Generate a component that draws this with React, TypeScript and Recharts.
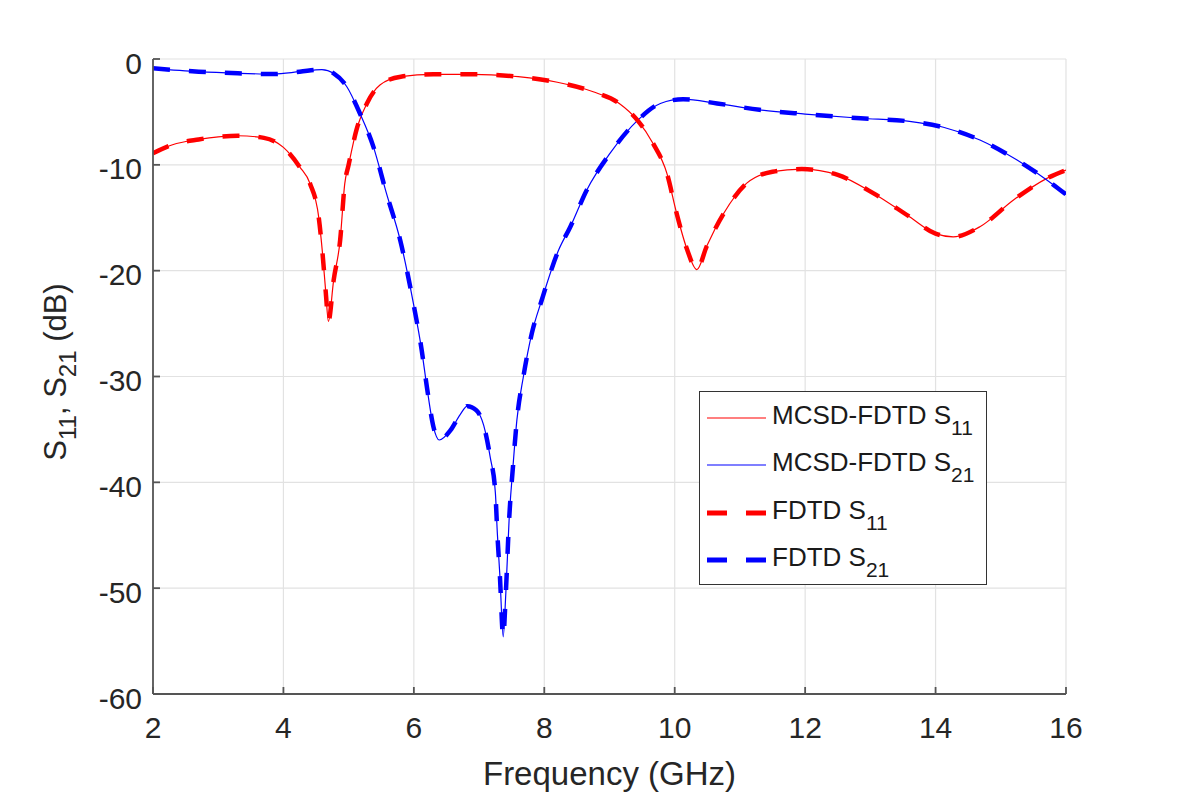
import React from "react";
import {
  CartesianGrid,
  Legend,
  Line,
  LineChart,
  XAxis,
  YAxis,
} from "recharts";

// frequency sweep, GHz
const s11Freq = [
  2, 2.3, 2.7, 3.0, 3.3, 3.7, 4.0, 4.25, 4.41, 4.54, 4.6, 4.65, 4.69, 4.77, 4.87, 4.94,
  5.0, 5.12, 5.28, 5.48, 5.8, 6.3, 6.9, 7.6, 8.2, 8.75, 9.15, 9.43, 9.67, 9.88, 10.03,
  10.19, 10.34, 10.49, 10.75, 11.1, 11.5, 11.95, 12.5, 13.05, 13.6, 14.0, 14.27, 14.68,
  15.2, 15.7, 16.0,
];
const s11Db = [
  -8.9, -8.1, -7.6, -7.35, -7.25, -7.45, -8.35, -10.2, -11.8, -14.9, -18.4, -22.1, -24.8,
  -20.9, -17.1, -11.8, -10.0, -6.7, -4.2, -2.46, -1.67, -1.45, -1.45, -1.67, -2.2, -3.1,
  -4.2, -5.8, -8.0, -10.8, -14.6, -18.0, -19.9, -17.7, -14.6, -11.75, -10.65, -10.4, -10.95,
  -12.7, -14.9, -16.5, -16.8, -15.85, -13.3, -11.3, -10.5,
];

const s21Freq = [
  2, 2.7, 3.3, 3.85, 4.25, 4.59, 4.77, 4.97, 5.17, 5.38, 5.58, 5.79, 5.99, 6.12, 6.2, 6.3,
  6.39, 6.56, 6.71, 6.82, 6.96, 7.07, 7.17, 7.25, 7.28, 7.32, 7.37, 7.41, 7.46, 7.52, 7.58,
  7.68, 7.81, 7.96, 8.22, 8.4, 8.65, 9.01, 9.43, 9.78, 10.13, 10.65, 11.3, 12.0, 12.85,
  13.6, 14.12, 14.68, 15.25, 15.7, 16.0,
];
const s21Db = [
  -0.88, -1.2, -1.35, -1.42, -1.2, -1.0, -1.35, -2.6, -5.1, -8.3, -12.7, -17.1, -23.0, -27.5,
  -31.0, -34.75, -36.0, -35.1, -33.6, -32.8, -33.2, -34.6, -37.6, -41.0, -44.8, -48.9, -54.6,
  -50.5, -43.6, -38.5, -34.1, -30.0, -25.9, -22.8, -18.05, -15.85, -12.4, -8.9, -5.8, -4.2,
  -3.8, -4.2, -4.8, -5.2, -5.6, -5.9, -6.45, -7.65, -9.55, -11.4, -12.8,
];

const xTicks = [2, 4, 6, 8, 10, 12, 14, 16];
const yTicks = [-60, -50, -40, -30, -20, -10, 0];

const toRows = (freq: number[], db: number[]) => freq.map((f, i) => ({ f, db: db[i] }));
const s11Rows = toRows(s11Freq, s11Db);
const s21Rows = toRows(s21Freq, s21Db);

const W = 1179;
const H = 794;
const PLOT = { left: 153, top: 59, right: 1066, bottom: 694 };
const FONT = "'Liberation Sans', Arial, Helvetica, sans-serif";
const AXIS_COLOR = "#555555";
const TEXT_COLOR = "#262626";

const series = [
  { key: "mcsd11", rows: s11Rows, label: "MCSD-FDTD S", sub: "11", color: "#ff0000", dashed: false },
  { key: "mcsd21", rows: s21Rows, label: "MCSD-FDTD S", sub: "21", color: "#0000ff", dashed: false },
  { key: "fdtd11", rows: s11Rows, label: "FDTD S", sub: "11", color: "#ff0000", dashed: true },
  { key: "fdtd21", rows: s21Rows, label: "FDTD S", sub: "21", color: "#0000ff", dashed: true },
];

function FreqTitle() {
  return (
    <text
      x={(PLOT.left + PLOT.right) / 2}
      y={PLOT.bottom + 91}
      textAnchor="middle"
      fontFamily={FONT}
      fontSize={33}
      fill={TEXT_COLOR}
    >
      Frequency (GHz)
    </text>
  );
}

function SParamTitle() {
  const cx = 66;
  const cy = 372;
  return (
    <text
      x={cx}
      y={cy}
      transform={`rotate(-90, ${cx}, ${cy})`}
      textAnchor="middle"
      fontFamily={FONT}
      fontSize={31}
      fill={TEXT_COLOR}
    >
      S
      <tspan fontSize={24} dy={10}>11</tspan>
      <tspan dy={-10}>, S</tspan>
      <tspan fontSize={24} dy={10}>21</tspan>
      <tspan dy={-10}> (dB)</tspan>
    </text>
  );
}

function LegendBox() {
  return (
    <div
      style={{
        boxSizing: "border-box",
        width: 288,
        height: 194,
        border: "1.5px solid #333",
        background: "#fff",
        paddingTop: 2,
        fontFamily: FONT,
        color: "#1a1a1a",
      }}
    >
      {series.map((s) => (
        <div
          key={s.key}
          style={{ height: 47.5, display: "flex", alignItems: "center", paddingLeft: 6 }}
        >
          <svg width={62} height={12} style={{ flex: "none" }}>
            <line
              x1={1}
              x2={60}
              y1={6}
              y2={6}
              stroke={s.color}
              strokeWidth={s.dashed ? 5 : 1.2}
              strokeDasharray={s.dashed ? "20 19" : undefined}
            />
          </svg>
          <span style={{ fontSize: 26, lineHeight: 1, marginLeft: 4, marginTop: -6, whiteSpace: "nowrap" }}>
            {s.label}
            <span style={{ fontSize: 21, position: "relative", top: 11 }}>{s.sub}</span>
          </span>
        </div>
      ))}
    </div>
  );
}

export default function App() {
  return (
    <div style={{ position: "absolute", left: 0, top: 0, width: W, height: H, background: "#fff" }}>
      <LineChart
        width={W}
        height={H}
        margin={{ top: PLOT.top, right: W - PLOT.right, bottom: 0, left: 0 }}
      >
        <CartesianGrid stroke="#e2e2e2" strokeWidth={1.2} />
        <XAxis
          type="number"
          dataKey="f"
          domain={[2, 16]}
          ticks={xTicks}
          allowDataOverflow
          height={H - PLOT.bottom}
          stroke={AXIS_COLOR}
          strokeWidth={1.8}
          tickSize={-7}
          tickMargin={30}
          tick={{ fontFamily: FONT, fontSize: 30, fill: TEXT_COLOR }}
          label={<FreqTitle />}
        />
        <XAxis
          xAxisId="top"
          orientation="top"
          type="number"
          domain={[2, 16]}
          ticks={xTicks}
          height={0}
          stroke={AXIS_COLOR}
          strokeWidth={1.8}
          tickSize={-7}
          tick={false}
        />
        <YAxis
          type="number"
          domain={[-60, 0]}
          ticks={yTicks}
          allowDataOverflow
          width={PLOT.left}
          stroke={AXIS_COLOR}
          strokeWidth={1.8}
          tickSize={-7}
          tickMargin={18}
          tick={{ fontFamily: FONT, fontSize: 30, fill: TEXT_COLOR, dy: 4 }}
          label={<SParamTitle />}
        />
        <YAxis
          yAxisId="right"
          orientation="right"
          type="number"
          domain={[-60, 0]}
          ticks={yTicks}
          width={0}
          stroke={AXIS_COLOR}
          strokeWidth={1.8}
          tickSize={-7}
          tick={false}
        />
        {series.map((s) => (
          <Line
            key={s.key}
            data={s.rows}
            dataKey="db"
            name={s.key}
            type="monotone"
            stroke={s.color}
            strokeWidth={s.dashed ? 4.5 : 1.2}
            strokeDasharray={s.dashed ? "17 19" : undefined}
            dot={false}
            activeDot={false}
            isAnimationActive={false}
          />
        ))}
        <Legend
          layout="vertical"
          align="center"
          verticalAlign="middle"
          wrapperStyle={{ left: 699, top: 391, width: 288, height: 194 }}
          content={() => <LegendBox />}
        />
      </LineChart>
    </div>
  );
}
